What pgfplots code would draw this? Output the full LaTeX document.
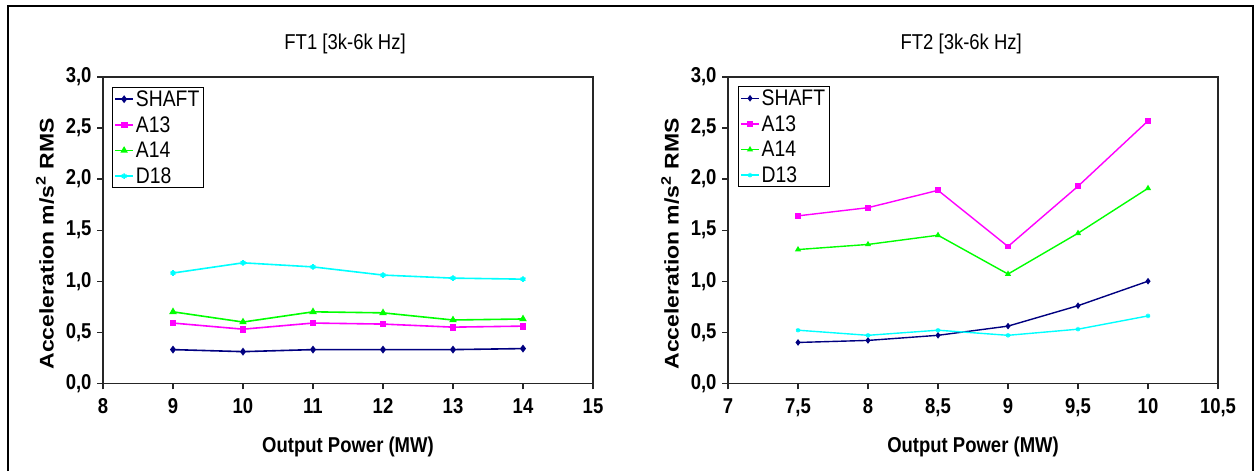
\documentclass[border=0pt]{standalone}
\usepackage{pgfplots}
\pgfplotsset{compat=1.18}
\usepackage{fontspec}
\setmainfont{Liberation Sans}[FakeStretch=0.86]
\newfontfamily\ylfont{Liberation Sans}
\definecolor{cnavy}{RGB}{0,0,128}
\definecolor{cmag}{RGB}{255,0,255}
\definecolor{cgreen}{RGB}{0,255,0}
\definecolor{ccyan}{RGB}{0,255,255}
\pgfplotsset{
  myaxis/.style={
    scale only axis, width=490pt, height=306.3pt,
    ymin=0, ymax=3, ytick={0,0.5,1,1.5,2,2.5,3},
    tick align=outside, tick pos=left, major tick length=6pt,
    axis line style={black!85, line width=1.2pt},
    every tick/.style={black!85, line width=1.2pt},
    /pgf/number format/assume math mode=true,
    yticklabel style={font=\fontsize{21.5}{25}\selectfont\bfseries, xshift=-2pt,
      /pgf/number format/fixed, /pgf/number format/fixed zerofill,
      /pgf/number format/precision=1, /pgf/number format/use comma},
    xticklabel style={font=\fontsize{21.5}{25}\selectfont\bfseries, yshift=-6pt,
      /pgf/number format/use comma},
    xlabel style={at={(axis description cs:0.5,-0.2243)}, anchor=base,
      font=\fontsize{21.5}{25}\selectfont\bfseries},
    ylabel style={at={(axis description cs:-0.101,0.455)}, anchor=base},
    title style={anchor=base, font=\fontsize{21.5}{25}\selectfont},
    legend cell align=left,
    legend style={anchor=north west, draw=black, line width=1pt,
      font=\fontsize{22.5}{26}\selectfont, inner xsep=2pt, inner ysep=1pt,
      row sep=4.5pt},
    legend image code/.code={\draw[mark repeat=2,mark phase=2] plot coordinates {(0pt,0pt) (9pt,0pt) (18pt,0pt)};},
  },
  s1/.style={cnavy, line width=1.6pt, mark=diamond*, mark size=2.7pt, mark options={solid}},
  s2/.style={cmag, line width=1.6pt, mark=square*, mark size=2.6pt, mark options={solid}},
  s3/.style={cgreen, line width=1.6pt, mark=triangle*, mark size=2.8pt, mark options={solid}},
  s4/.style={ccyan, line width=1.6pt, mark=asterisk, mark size=2.8pt, mark options={solid}},
}
\begin{document}
\begin{tikzpicture}
\path[use as bounding box] (0,0) rectangle (1257pt,471pt);
\draw[line width=2pt] (8pt,0pt) -- (8pt,465pt) -- (1253pt,465pt) -- (1253pt,0pt);
\begin{axis}[myaxis, at={(103pt,87.7pt)}, anchor=south west,
  xmin=8, xmax=15, xtick={8,9,10,11,12,13,14,15},
  title={FT1 [3k-6k Hz]}, title style={at={(axis description cs:0.494,1.0686)}},
  xlabel={Output Power (MW)},
  ylabel={\scalebox{1}[0.86]{\ylfont\fontsize{23}{26}\selectfont\bfseries Acceleration m/s\textsuperscript{2} RMS}},
  legend style={at={(0.018,0.967)}}]
\addplot[s1] coordinates {(9,0.33) (10,0.31) (11,0.33) (12,0.33) (13,0.33) (14,0.34)};
\addplot[s2] coordinates {(9,0.59) (10,0.53) (11,0.59) (12,0.58) (13,0.55) (14,0.56)};
\addplot[s3] coordinates {(9,0.70) (10,0.60) (11,0.70) (12,0.69) (13,0.62) (14,0.63)};
\addplot[s4] coordinates {(9,1.08) (10,1.18) (11,1.14) (12,1.06) (13,1.03) (14,1.02)};
\legend{SHAFT,A13,A14,D18}
\end{axis}
\begin{axis}[myaxis, at={(728pt,87.7pt)}, anchor=south west,
  xmin=7, xmax=10.5, xtick={7,7.5,8,8.5,9,9.5,10,10.5},
  title={FT2 [3k-6k Hz]}, title style={at={(axis description cs:0.476,1.0686)}},
  xlabel={Output Power (MW)},
  ylabel={\scalebox{1}[0.86]{\ylfont\fontsize{23}{26}\selectfont\bfseries Acceleration m/s\textsuperscript{2} RMS}},
  legend style={at={(0.02,0.97)}}]
\addplot[s1, line width=1.4pt, mark size=2.2pt] coordinates {(7.5,0.40) (8,0.42) (8.5,0.47) (9,0.56) (9.5,0.76) (10,1.00)};
\addplot[s2, line width=1.4pt, mark size=2.2pt] coordinates {(7.5,1.64) (8,1.72) (8.5,1.89) (9,1.34) (9.5,1.93) (10,2.57)};
\addplot[s3, line width=1.4pt, mark size=2.2pt] coordinates {(7.5,1.31) (8,1.36) (8.5,1.45) (9,1.07) (9.5,1.47) (10,1.91)};
\addplot[s4, line width=1.4pt, mark size=2.2pt] coordinates {(7.5,0.52) (8,0.47) (8.5,0.52) (9,0.47) (9.5,0.53) (10,0.66)};
\legend{SHAFT,A13,A14,D13}
\end{axis}
\end{tikzpicture}
\end{document}
